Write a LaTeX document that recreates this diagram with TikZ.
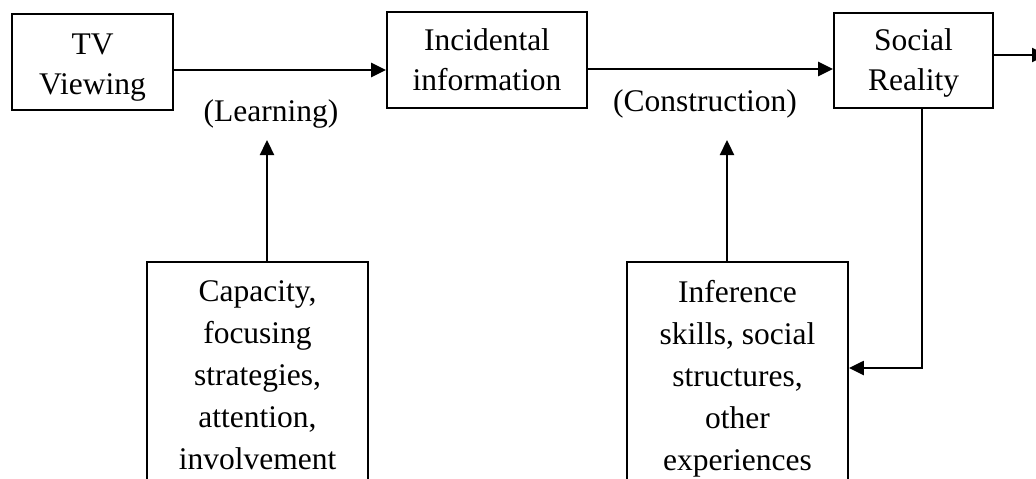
\documentclass[tikz,border=0pt]{standalone}
\usepackage{fontspec}
\setmainfont{Liberation Serif}
\usetikzlibrary{arrows.meta}
\begin{document}
\begin{tikzpicture}[x=1pt,y=-1pt,
 box/.style={draw, line width=1.8pt, align=center, inner sep=0pt, font=\fontsize{31.5}{40}\selectfont},
 tallbox/.style={box, font=\fontsize{31.5}{42}\selectfont, minimum width=221pt},
 lbl/.style={inner sep=0pt, font=\fontsize{31.5}{39}\selectfont, anchor=base},
 arr/.style={line width=2.3pt, -{Triangle[length=15pt,width=14pt]}}]
\useasboundingbox (0,0) rectangle (1036,479);
\clip (0,0) rectangle (1036,479);
\node[box, minimum width=161pt, minimum height=96pt] (tv) at (92.5,62) {\rule{0pt}{31pt}TV\\Viewing};
\node[box, minimum width=200pt, minimum height=96pt] (inc) at (487,60) {Incidental\\information};
\node[box, minimum width=159pt, minimum height=95pt] (soc) at (913.5,60.5) {\rule{0pt}{27.5pt}Social\\Reality};
\node[tallbox, minimum height=226pt] (cap) at (257.5,375) {Capacity,\\focusing\\strategies,\\attention,\\involvement};
\node[tallbox, minimum height=233pt] (inf) at (737.5,378.7) {Inference\\skills, social\\structures,\\other\\experiences};
\node[lbl] (lrn) at (271,121) {(Learning)};
\node[lbl] (con) at (705,111) {(Construction)};
\coordinate (out) at (1047,55);
\coordinate (lrntip) at (267,140);
\coordinate (contip) at (727,140);
\draw[arr] ([yshift=-8pt]tv.east) -- ([yshift=-10pt]inc.west);
\draw[arr] ([yshift=-9pt]inc.east) -- ([yshift=-8.5pt]soc.west);
\draw[arr] ([yshift=5.5pt]soc.east) -- (out);
\draw[arr] ([xshift=9.5pt]cap.north) -- (lrntip);
\draw[arr] ([xshift=-10.5pt]inf.north) -- (contip);
\draw[arr] ([xshift=8.5pt]soc.south) |- ([yshift=10.7pt]inf.east);
\end{tikzpicture}
\end{document}
